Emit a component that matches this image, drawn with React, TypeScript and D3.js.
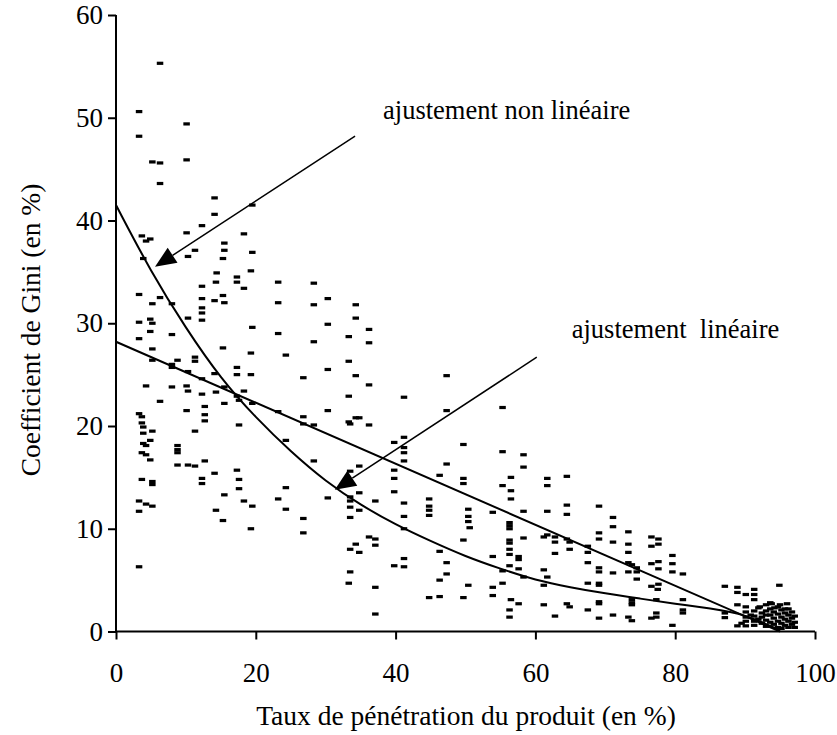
import React, { useEffect, useRef } from "react";
import * as d3 from "d3";

// Scatter data: penetration rate (%) and Gini coefficient (%)
const points: [number, number][] = [
  [6.3,55.3],[3.3,50.6],[10.1,49.4],[3.3,48.2],[5.2,45.7],[6.3,45.6],[10.1,45.9],[6.3,43.6],[14.1,42.2],[14.1,40.6],
  [12.3,39.5],[19.5,41.5],[10.1,38.8],[3.7,38.5],[4.9,38.2],[4.3,38.0],[18.3,38.7],[15.5,37.8],[15.5,37.1],[11.3,37.1],
  [10.3,36.5],[15.3,36.3],[19.5,36.9],[3.9,36.3],[14.4,34.9],[17.3,34.5],[19.3,35.1],
  [12.3,33.6],[14.3,34.0],[17.3,34.0],[18.3,33.4],[23.2,34.0],[3.3,32.8],[6.3,32.5],[5.2,31.9],[8.0,31.9],
  [12.3,32.4],[12.3,31.5],[12.3,31.0],[12.3,30.3],[14.1,32.2],[15.3,32.7],[15.5,32.0],[23.2,32.0],[3.3,30.1],[4.9,30.4],
  [5.2,30.0],[10.3,30.5],[4.9,29.2],[3.3,28.5],[8.0,28.9],[19.5,29.6],[23.2,29.0],[5.2,27.5],[15.3,27.6],[19.3,27.1],
  [5.2,26.4],[8.8,26.4],[8.0,26.0],[11.3,26.7],[11.3,26.3],[8.0,25.7],[10.3,25.3],[14.1,25.1],[17.3,25.7],[17.3,25.0],
  [19.3,25.0],[12.3,24.6],[4.3,23.9],[8.0,23.8],[10.1,23.9],[10.3,23.4],[12.3,23.1],[14.3,23.3],[15.5,23.8],[18.3,23.4],
  [17.3,22.9],[17.6,22.5],[15.5,22.2],[19.5,22.2],[23.2,21.4],[6.3,22.4],[12.7,21.9],[12.7,21.1],[12.7,20.5],[10.1,21.5],
  [3.3,21.2],[3.7,20.9],[3.7,20.3],[3.9,19.9],[3.9,19.3],[5.2,19.5],[17.6,20.1],[11.3,19.5],[4.9,18.6],[3.9,18.3],
  [4.3,18.1],[8.8,18.1],[8.8,17.7],[8.8,17.4],[3.7,17.4],[4.3,17.2],[4.9,16.7],[8.8,16.2],[10.3,16.2],[11.3,16.1],
  [12.7,16.6],[14.1,15.4],[17.3,15.7],[3.7,14.8],[12.3,14.9],[17.6,14.8],
  [5.2,14.6],[5.2,14.3],[12.3,14.4],[17.6,13.9],[3.3,12.7],[4.3,12.4],[5.2,12.2],[3.3,11.7],[15.5,13.3],[18.3,12.7],
  [19.5,12.2],[23.2,12.9],[14.3,11.8],[15.3,10.8],[19.3,10.0],[3.3,6.3],
  [28.3,33.9],[28.3,31.8],[30.3,32.4],[34.3,31.8],[34.3,30.5],[36.2,29.4],[30.3,29.9],[28.3,28.2],[33.3,28.7],[36.2,28.1],
  [24.3,26.9],[33.3,26.3],[30.3,25.5],[26.8,24.7],[34.3,24.9],[36.2,24.0],[47.3,24.9],[33.3,22.9],[41.2,22.8],[30.3,21.5],
  [47.3,21.5],[26.8,20.9],[26.8,20.2],[28.3,20.1],[33.3,20.4],[33.5,20.2],[34.3,20.8],[34.8,20.8],[36.2,20.1],[41.2,18.9],
  [39.8,18.4],[41.2,17.9],[49.7,18.2],[24.3,18.6],
  [41.2,17.4],[41.2,16.6],[28.3,16.6],[34.8,16.1],[33.5,15.6],[47.3,16.3],[46.3,15.2],[39.8,15.7],[39.8,14.9],[49.7,14.9],
  [49.7,14.4],[24.3,14.0],[34.8,13.5],[39.8,13.6],[30.3,13.0],[33.5,13.1],[33.5,12.7],[37.1,12.7],[41.2,12.5],[44.8,12.9],
  [44.8,12.2],[44.8,11.8],[44.8,11.3],[24.3,11.9],[33.5,12.1],[34.8,11.8],[33.5,11.1],[41.2,11.2],[50.4,11.9],[50.4,11.2],
  [50.4,10.7],[26.8,11.0],[26.8,9.6],[41.2,10.0],[36.2,9.2],[37.1,9.0],[37.1,8.4],[34.3,8.5],[33.5,8.0],[34.8,7.7],
  [49.7,8.9],[46.3,7.8],[41.2,7.1],[39.8,6.4],[41.2,6.3],[47.3,6.7],[47.3,5.6],[46.3,5.0],[33.5,5.8],[33.3,4.7],
  [37.1,4.3],[50.4,4.5],[44.8,3.3],[46.3,3.4],[49.7,3.3],[37.1,1.7],
  [55.3,21.8],[55.3,17.5],[58.3,17.2],[58.3,16.0],[56.5,15.0],[55.3,14.2],[56.5,13.7],[56.5,12.9],[61.7,14.9],[61.7,14.2],
  [64.5,15.1],[58.3,11.7],[61.7,11.7],[64.5,12.3],[64.5,11.4],[69.1,12.2],[71.1,11.1],[71.1,10.2],[53.9,11.6],[50.6,10.1],
  [56.3,10.6],[56.3,10.3],[56.3,10.0],
  [71.1,8.7],[56.3,8.9],[56.3,8.6],[56.3,8.0],[56.3,7.5],[53.9,7.3],[57.6,7.3],[57.6,7.0],[58.3,9.1],[56.3,6.4],
  [57.6,6.1],[55.3,5.9],[58.3,5.3],[55.3,4.7],[53.9,4.3],[53.9,3.5],[56.5,3.1],[57.6,2.7],[56.3,2.1],[56.3,1.4],
  [61.2,9.2],[61.7,9.4],[62.8,9.2],[62.8,8.7],[64.5,9.0],[64.9,8.7],[64.9,8.0],[62.8,7.6],[61.2,6.0],[61.7,5.3],
  [61.2,4.5],[61.2,2.6],[64.5,2.7],[64.9,2.4],[62.8,1.5],[67.5,8.3],[67.5,7.7],[67.5,6.7],[67.5,4.7],[67.5,2.1],
  [69.1,9.6],[69.1,9.0],[69.1,6.2],[69.1,5.8],[69.1,4.7],[69.1,4.5],[69.1,2.9],[69.1,2.7],[69.1,1.3],[71.1,5.7],
  [71.1,1.6],[73.3,9.7],[73.3,8.5],[73.3,7.7],[73.3,6.7],[73.8,6.5],[74.5,6.2],[74.5,5.8],[74.5,5.1],[73.3,5.8],
  [73.8,3.1],[73.8,2.8],[73.8,2.6],[73.3,1.4],[73.8,1.05],[76.6,9.2],[76.6,8.3],[77.6,9.0],[77.6,8.5],[76.6,6.6],
  [77.6,6.8],[77.6,6.1],[76.6,4.4],[77.6,4.6],[77.5,4.1],[77.3,3.1],[77.3,1.8],[77.3,1.4],[76.6,1.3],
  [79.6,7.4],[79.6,6.6],[79.6,5.8],[81.1,5.6],[81.1,3.1],[81.1,2.1],[81.1,1.8],[79.6,0.6],
  [90.1,2.4],[90.1,1.9],[90.1,1.4],[90.1,1.0],[90.8,1.6],[91.3,2.0],[91.3,1.5],[91.3,1.0],[91.3,0.6],[91.9,2.3],
  [91.9,1.2],[92.4,1.8],[92.4,0.8],[92.4,1.4],[93.0,2.6],[93.0,2.0],[93.0,1.1],[93.0,0.5],[93.6,2.8],[93.6,2.2],
  [93.6,1.6],[93.6,0.9],[94.1,1.9],[94.1,1.3],[94.1,0.7],[94.7,2.4],[94.7,1.7],[94.7,1.0],[94.7,0.4],[95.2,2.1],
  [95.2,1.4],[95.2,0.8],[95.2,0.3],[95.7,2.2],[95.7,1.8],[95.7,1.2],[95.7,0.6],[96.2,2.2],[96.2,1.6],[96.2,1.0],
  [96.2,0.4],[96.7,1.9],[96.7,1.3],[96.7,0.7],[97.1,1.5],[97.1,0.9],[97.1,0.4],[94.9,4.5],[93.8,2.7],[92.1,2.4],
  [89.5,0.8],[88.9,0.55],[90.1,0.55],[91.3,4.1],[91.3,3.6],[91.3,3.1],[90.1,3.6],[88.9,4.3],[88.9,3.8],[88.9,2.6],
  [87.1,4.4],[87.1,1.8],[87.1,1.35],[93.0,1.6],[95.0,2.6],[96.0,2.7],[94.2,2.3],
];

// Fitted curves
const linearFitX = [0, 95];
const linearFitY = [28.2, 0.0];
const nonLinearFitX = [0, 5, 10, 15, 20, 25, 30, 35, 40, 45, 50, 55, 60, 65, 70, 75, 80, 85, 90, 95];
const nonLinearFitY = [41.5, 35.0, 29.5, 24.6, 20.8, 17.5, 14.6, 12.3, 10.4, 8.8, 7.3, 6.1, 5.0, 4.3, 3.7, 3.2, 2.7, 2.25, 1.7, 0.1];

// Axis ticks
const xTicks = [0, 20, 40, 60, 80, 100];
const yTicks = [0, 10, 20, 30, 40, 50, 60];

// Annotations (data units)
const annotationLabels = ["ajustement non linéaire", "ajustement  linéaire"];
const annotationText = [[38.2, 49.9], [65.2, 28.6]];
const annotationFrom = [[34.2, 48.2], [60.2, 26.7]];
const annotationTo = [[5.58, 35.5], [31.3, 13.8]];

const W = 837;
const H = 735;
const FONT = "'Liberation Serif', 'Times New Roman', Times, serif";

export default function App() {
  const xAxisRef = useRef<SVGGElement>(null);
  const yAxisRef = useRef<SVGGElement>(null);

  const x = d3.scaleLinear().domain([0, 100]).range([116, 815]);
  const y = d3.scaleLinear().domain([0, 60]).range([631.5, 15]);

  useEffect(() => {
    const gx = d3.select(xAxisRef.current!);
    gx.call(d3.axisBottom(x).tickValues(xTicks).tickSize(8).tickPadding(5).tickFormat(d3.format("d")) as any);
    gx.select(".domain").attr("stroke-width", 2).attr("d", `M${x(0)},0H${x(100)}`);
    gx.selectAll(".tick line").attr("stroke-width", 2);
    gx.selectAll(".tick text").attr("dy", null).attr("y", 50.5)
      .attr("font-family", FONT).attr("font-size", 27).attr("fill", "#000");

    const gy = d3.select(yAxisRef.current!);
    gy.call(d3.axisLeft(y).tickValues(yTicks).tickSize(8).tickPadding(5).tickFormat(d3.format("d")) as any);
    gy.select(".domain").attr("stroke-width", 2).attr("d", `M0,${y(0)}V${y(60)}`);
    gy.selectAll(".tick line").attr("stroke-width", 2);
    gy.selectAll(".tick text").attr("font-family", FONT).attr("font-size", 27).attr("fill", "#000");
  }, []);

  const linePath = d3.line<[number, number]>().x((d) => x(d[0])).y((d) => y(d[1]));
  const curvePath = d3.line<[number, number]>().x((d) => x(d[0])).y((d) => y(d[1])).curve(d3.curveBasis);
  const linear = linePath(linearFitX.map((v, i) => [v, linearFitY[i]] as [number, number]));
  const nonLinear = curvePath(nonLinearFitX.map((v, i) => [v, nonLinearFitY[i]] as [number, number]));

  const arrows = annotationFrom.map((f, i) => {
    const x1 = x(f[0]), y1 = y(f[1]);
    const x2 = x(annotationTo[i][0]), y2 = y(annotationTo[i][1]);
    const dx = x2 - x1, dy = y2 - y1;
    const len = Math.hypot(dx, dy);
    const ux = dx / len, uy = dy / len;
    const headL = 21, headW = 9;
    const bx = x2 - ux * headL, by = y2 - uy * headL;
    const p1 = [bx - uy * headW, by + ux * headW];
    const p2 = [bx + uy * headW, by - ux * headW];
    return { x1, y1, bx, by, head: `${x2},${y2} ${p1[0]},${p1[1]} ${p2[0]},${p2[1]}` };
  });

  return (
    <svg width={W} height={H} style={{ position: "absolute", left: 0, top: 0, background: "#fff" }}>
      <rect width={W} height={H} fill="#fff" />
      <g>
        {points.map((p, i) => (
          <rect key={i} x={x(p[0]) - 3.25} y={y(p[1]) - 1.6} width={6.5} height={3.2} fill="#000" />
        ))}
      </g>
      <path d={linear || ""} fill="none" stroke="#000" strokeWidth={2} />
      <path d={nonLinear || ""} fill="none" stroke="#000" strokeWidth={2} />
      {arrows.map((a, i) => (
        <g key={i}>
          <line x1={a.x1} y1={a.y1} x2={a.bx} y2={a.by} stroke="#000" strokeWidth={1.5} />
          <polygon points={a.head} fill="#000" />
        </g>
      ))}
      {annotationLabels.map((t, i) => (
        <text key={i} x={x(annotationText[i][0])} y={y(annotationText[i][1])} fontFamily={FONT} fontSize={26.5}
          style={{ whiteSpace: "pre" }} fill="#000">{t}</text>
      ))}
      <g ref={xAxisRef} transform={`translate(0,${y(0)})`} />
      <g ref={yAxisRef} transform={`translate(${x(0)},0)`} />
      <text x={466} y={725} textAnchor="middle" fontFamily={FONT} fontSize={27.5} fill="#000">
        Taux de pénétration du produit (en %)
      </text>
      <text transform={`translate(40,${330}) rotate(-90)`} textAnchor="middle" fontFamily={FONT} fontSize={27.5} fill="#000">
        Coefficient de Gini (en %)
      </text>
    </svg>
  );
}
